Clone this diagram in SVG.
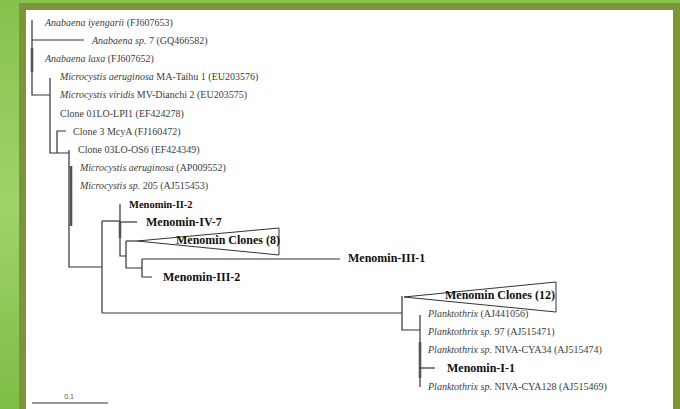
<svg xmlns="http://www.w3.org/2000/svg" width="680" height="409" viewBox="0 0 680 409">
<defs>
<linearGradient id="bg" x1="0" y1="0" x2="0" y2="1">
<stop offset="0" stop-color="#86c24c"/>
<stop offset="0.5" stop-color="#9fd46a"/>
<stop offset="1" stop-color="#7dbd45"/>
</linearGradient>
<style>
.t{font-family:"Liberation Serif","Times New Roman",serif;font-size:10px;fill:#3c3c3c}
.b{font-family:"Liberation Serif","Times New Roman",serif;font-size:12px;font-weight:bold;fill:#111}
.i{font-style:italic}
.ln{fill:none;stroke:#333;stroke-width:1.2}
.th{fill:none;stroke:#555;stroke-width:2.6}
.tri{fill:#fff;stroke:#333;stroke-width:1}
.sc{font-family:"Liberation Sans",Arial,sans-serif;font-size:7px;fill:#555}
</style>
</defs>
<rect x="0" y="0" width="680" height="409" fill="url(#bg)"/>
<rect x="19" y="3" width="661" height="406" fill="#7b9539"/>
<rect x="26" y="10" width="647" height="399" fill="#ffffff"/>

<g id="connectors">
<path class="ln" d="M32,20 V95 H50"/>
<path class="th" d="M32,48 V72"/>
<path class="ln" d="M32,40 H84"/>
<path class="ln" d="M50,78 V153 H69"/>
<path class="ln" d="M66,131 H57 V153"/>
<path class="ln" d="M69,150 V267 H102"/>
<path class="th" d="M71,166 V226"/>
<path class="ln" d="M102,221 V313"/>
<path class="ln" d="M102,221 H120"/>
<path class="ln" d="M120,204 V256 H126" stroke="#666"/>
<path class="th" d="M120,222 V238" stroke="#222"/>
<path class="ln" d="M120,222 H137"/>
<path class="ln" d="M126,241 V268 H142"/>
<path class="ln" d="M126,241 H137"/>
<path class="ln" d="M142,259 V277 H152"/>
<path class="ln" d="M142,259 H340"/>
<path class="ln" d="M102,313 H402"/>
<path class="ln" d="M402,296 V330 H420"/>
<path class="ln" d="M420,315 V387"/>
<path class="th" d="M420,342 V378"/>
<path class="ln" d="M420,368 H435"/>
<path class="ln" d="M32,403 H108" stroke="#555"/>
</g>

<g id="clade-8"><polygon class="tri" points="137,241 279,228 279,255"/></g>
<g id="clade-12"><polygon class="tri" points="404,297 556,282 556,312"/></g>

<g id="n1"><text class="t" x="45" y="25.5"><tspan class="i">Anabaena iyengarii</tspan> (FJ607653)</text></g>
<g id="n2"><text class="t" x="92" y="43.7"><tspan class="i">Anabaena sp.</tspan> 7 (GQ466582)</text></g>
<g id="n3"><text class="t" x="45" y="61.9"><tspan class="i">Anabaena laxa</tspan> (FJ607652)</text></g>
<g id="n4"><text class="t" x="60" y="80.1"><tspan class="i">Microcystis aeruginosa</tspan> MA-Taihu 1 (EU203576)</text></g>
<g id="n5"><text class="t" x="60" y="98.3"><tspan class="i">Microcystis viridis</tspan> MV-Dianchi 2 (EU203575)</text></g>
<g id="n6"><text class="t" x="60" y="116.5">Clone 01LO-LPI1 (EF424278)</text></g>
<g id="n7"><text class="t" x="73" y="134.7">Clone 3 McyA (FJ160472)</text></g>
<g id="n8"><text class="t" x="78" y="152.9">Clone 03LO-OS6 (EF424349)</text></g>
<g id="n9"><text class="t" x="80" y="171.1"><tspan class="i">Microcystis aeruginosa</tspan> (AP009552)</text></g>
<g id="n10"><text class="t" x="80" y="189.3"><tspan class="i">Microcystis sp.</tspan> 205 (AJ515453)</text></g>
<g id="n11"><text class="b" x="129" y="207.5" style="font-size:10.5px">Menomin-II-2</text></g>
<g id="n12"><text class="b" x="146" y="226">Menomin-IV-7</text></g>
<g id="n13"><text class="b" x="176" y="244.2">Menomin Clones (8)</text></g>
<g id="n14"><text class="b" x="348" y="262.4">Menomin-III-1</text></g>
<g id="n15"><text class="b" x="163" y="280.6">Menomin-III-2</text></g>
<g id="n16"><text class="b" x="445" y="298.8">Menomin Clones (12)</text></g>
<g id="n17"><text class="t" x="428" y="316.7"><tspan class="i">Planktothrix</tspan> (AJ441056)</text></g>
<g id="n18"><text class="t" x="428" y="334.9"><tspan class="i">Planktothrix sp.</tspan> 97 (AJ515471)</text></g>
<g id="n19"><text class="t" x="428" y="353.1"><tspan class="i">Planktothrix sp.</tspan> NIVA-CYA34 (AJ515474)</text></g>
<g id="n20"><text class="b" x="447" y="371.6">Menomin-I-1</text></g>
<g id="n21"><text class="t" x="428" y="389.5"><tspan class="i">Planktothrix sp.</tspan> NIVA-CYA128 (AJ515469)</text></g>
<g id="scale"><text class="sc" x="69" y="399" text-anchor="middle">0.1</text></g>
</svg>
